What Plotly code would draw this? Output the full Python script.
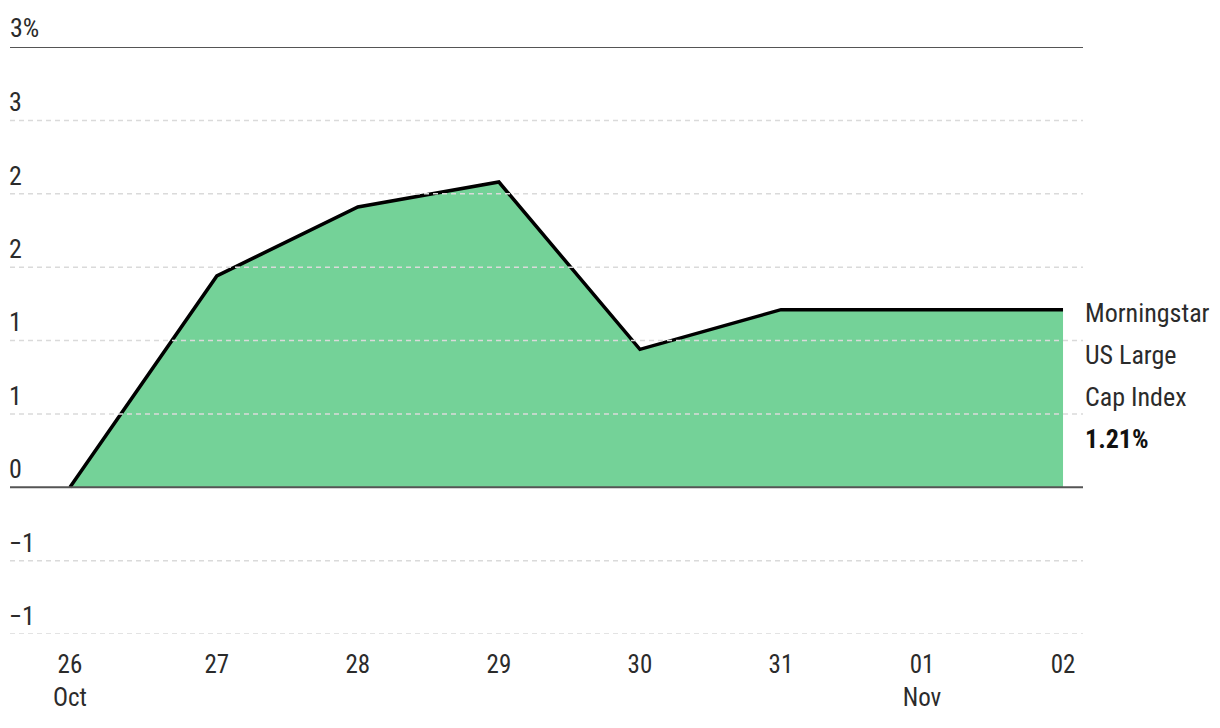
import plotly.graph_objects as go
import pandas as pd

# local (Central European) dates; DST ends on 26 Oct 2025, so that day is 25 h long
dates = ["2025-10-26", "2025-10-27", "2025-10-28", "2025-10-29",
         "2025-10-30", "2025-10-31", "2025-11-01", "2025-11-02"]
values = [0.0, 1.44, 1.91, 2.08, 0.94, 1.21, 1.21, 1.21]

x_tick_labels = ["26<br>Oct", "27", "28", "29", "30", "31", "01<br>Nov", "02"]
y_tick_vals = [-1.0, -0.5, 0.0, 0.5, 1.0, 1.5, 2.0, 2.5, 3.0]
y_tick_text = ["\u22121", "\u22121", "0", "1", "1", "2", "2", "3", "3%"]
solid_lines = [0.0, 3.0]

label_lines = ["Morningstar", "US Large", "Cap Index", "<b>1.21%</b>"]

FONT = "Roboto Condensed, Liberation Sans Narrow, Roboto, sans-serif"
TEXT = "#2b2b2b"

# convert the local midnights to absolute instants (time axis is linear in real time)
x_time = (pd.to_datetime(dates).tz_localize("Europe/Paris")
          .tz_convert("UTC").tz_localize(None))

fig = go.Figure()
fig.add_trace(go.Scatter(
    x=x_time, y=values, mode="lines", fill="tozeroy",
    fillcolor="#74D298", line=dict(color="#000000", width=3.5),
    hoverinfo="skip", showlegend=False,
))

for v in y_tick_vals:
    if v in solid_lines:
        fig.add_shape(type="line", xref="paper", x0=0, x1=1, yref="y", y0=v, y1=v,
                      line=dict(color="#555555", width=2), layer="above")
    else:
        fig.add_shape(type="line", xref="paper", x0=0, x1=1, yref="y", y0=v, y1=v,
                      line=dict(color="#dadada", width=1.5, dash="5px,4px"), layer="above")

# top tick label sits above the plot area, so draw it as an annotation
fig.add_annotation(xref="paper", x=0, y=y_tick_vals[-1], text=y_tick_text[-1],
                   showarrow=False, xanchor="left", yanchor="bottom", yshift=2, xshift=-2,
                   font=dict(family=FONT, size=26, color=TEXT))

for i, t in enumerate(label_lines):
    fig.add_annotation(x=x_time[-1], y=values[-1], text=t, showarrow=False,
                       xanchor="left", yanchor="middle", xshift=20, yshift=-3 - 42 * i,
                       font=dict(family=FONT, size=26, color="#111111" if i == 3 else TEXT))

x0 = x_time[0] - pd.Timedelta(hours=10.2)
x1 = x_time[-1] + pd.Timedelta(hours=3.4)

# the page body adds an 8px offset, so the figure is sized to fit the 1220x728 window
fig.update_layout(
    width=1212, height=720,
    margin=dict(l=2, r=137, t=39, b=94),
    paper_bgcolor="white", plot_bgcolor="white",
    font=dict(family=FONT, size=25, color=TEXT),
    xaxis=dict(type="date", range=[x0, x1], tickvals=x_time, ticktext=x_tick_labels,
               showgrid=False, zeroline=False, showline=False, automargin=False,
               ticks="outside", ticklen=8, tickcolor="rgba(0,0,0,0)",
               tickfont=dict(family=FONT, size=25, color=TEXT)),
    yaxis=dict(range=[-1, 3], tickvals=y_tick_vals[:-1], ticktext=y_tick_text[:-1],
               showgrid=False, zeroline=False, showline=False, automargin=False,
               ticklabelposition="inside top", ticks="", ticklabelstandoff=-4,
               tickfont=dict(family=FONT, size=26, color=TEXT)),
)

fig.write_html("out.html")
